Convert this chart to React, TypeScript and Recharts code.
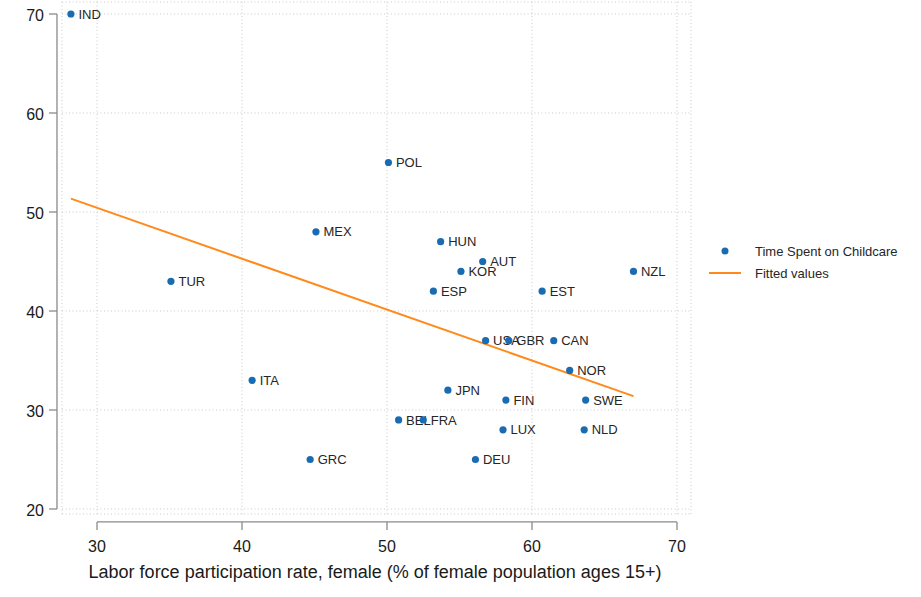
import { ScatterChart, Scatter, XAxis, YAxis, CartesianGrid, ReferenceLine } from 'recharts'

const countries = ['IND', 'POL', 'MEX', 'HUN', 'AUT', 'KOR', 'ESP', 'EST', 'NZL', 'TUR', 'ITA', 'GRC', 'USA', 'GBR', 'CAN', 'NOR', 'JPN', 'FIN', 'SWE', 'BEL', 'FRA', 'LUX', 'NLD', 'DEU']
const laborForce = [28.2, 50.1, 45.1, 53.7, 56.6, 55.1, 53.2, 60.7, 67.0, 35.1, 40.7, 44.7, 56.8, 58.4, 61.5, 62.6, 54.2, 58.2, 63.7, 50.8, 52.5, 58.0, 63.6, 56.1]
const childcare = [70, 55, 48, 47, 45, 44, 42, 42, 44, 43, 33, 25, 37, 37, 37, 34, 32, 31, 31, 29, 29, 28, 28, 25]

const fittedX = [28.2, 67.0]
const fittedY = [51.35, 31.4]

const xTicks = [30, 40, 50, 60, 70]
const yTicks = [20, 30, 40, 50, 60, 70]

const points = countries.map((code, i) => ({ code, x: laborForce[i], y: childcare[i] }))
const fitted = fittedX.map((x, i) => ({ x, y: fittedY[i] }))

const BLUE = '#1a6cb2'
const ORANGE = '#ff8a1c'
const AXIS = '#8a8a8a'
const FONT = '"Liberation Sans", Arial, sans-serif'

// plot region is a bit wider than the tick range (stata style)
const xDomain = [27.586, 70.966]
const yDomain = [19.495, 71.212]

// where the axis lines sit, just outside the plot region
const yAxisLineX = 27.24
const xAxisLineY = 18.69

const PointWithLabel = (props: any) => {
  const { cx, cy, payload } = props
  return (
    <g>
      <circle cx={cx} cy={cy} r={3.6} fill={BLUE} />
      <text x={cx + 7.5} y={cy} dy="0.36em" fontSize={13} fontFamily={FONT} fill="#262626">
        {payload.code}
      </text>
    </g>
  )
}

const YTick = (props: any) => {
  const { y, payload } = props
  return (
    <g>
      <line x1={49} x2={57} y1={y} y2={y} stroke={AXIS} strokeWidth={1.3} />
      <text x={44} y={y} dy="0.42em" textAnchor="end" fontSize={16} fontFamily={FONT} fill="#1a1a1a">
        {payload.value}
      </text>
    </g>
  )
}

const XTick = (props: any) => {
  const { x, payload } = props
  return (
    <g>
      <line x1={x} x2={x} y1={522} y2={530} stroke={AXIS} strokeWidth={1.3} />
      <text x={x} y={552} textAnchor="middle" fontSize={16} fontFamily={FONT} fill="#1a1a1a">
        {payload.value}
      </text>
    </g>
  )
}

const XTitle = () => (
  <text x={375} y={578} textAnchor="middle" fontSize={18} fontFamily={FONT} fill="#1a1a1a">
    Labor force participation rate, female (% of female population ages 15+)
  </text>
)

export default function App() {
  return (
    <div style={{ position: 'absolute', left: 0, top: 0, width: 921, height: 597, background: '#fff' }}>
      <ScatterChart width={921} height={597} margin={{ top: 2, right: 230, bottom: 0, left: 0 }}>
        <CartesianGrid stroke="#c9c9c9" strokeDasharray="1 2.5" />
        <XAxis
          type="number"
          dataKey="x"
          domain={xDomain}
          ticks={xTicks}
          height={83}
          axisLine={false}
          tickLine={false}
          tick={<XTick />}
          label={<XTitle />}
        />
        <YAxis
          type="number"
          dataKey="y"
          domain={yDomain}
          ticks={yTicks}
          width={62}
          axisLine={false}
          tickLine={false}
          tick={<YTick />}
        />
        <ReferenceLine
          segment={[{ x: 30, y: xAxisLineY }, { x: 70, y: xAxisLineY }]}
          stroke={AXIS}
          strokeWidth={1.3}
          ifOverflow="visible"
        />
        <ReferenceLine
          segment={[{ x: yAxisLineX, y: 20 }, { x: yAxisLineX, y: 70 }]}
          stroke={AXIS}
          strokeWidth={1.3}
          ifOverflow="visible"
        />
        <Scatter data={fitted} line={{ stroke: ORANGE, strokeWidth: 2 }} shape={() => <g />} isAnimationActive={false} />
        <Scatter data={points} shape={<PointWithLabel />} isAnimationActive={false} />
      </ScatterChart>
      <div style={{ position: 'absolute', left: 700, top: 240, fontFamily: FONT, fontSize: 13, color: '#262626' }}>
        <div style={{ display: 'flex', alignItems: 'center', height: 22 }}>
          <svg width={55} height={22}>
            <circle cx={25} cy={11} r={3.5} fill={BLUE} />
          </svg>
          <span>Time Spent on Childcare</span>
        </div>
        <div style={{ display: 'flex', alignItems: 'center', height: 22 }}>
          <svg width={55} height={22}>
            <line x1={9} x2={41} y1={11} y2={11} stroke={ORANGE} strokeWidth={2} />
          </svg>
          <span>Fitted values</span>
        </div>
      </div>
    </div>
  )
}
